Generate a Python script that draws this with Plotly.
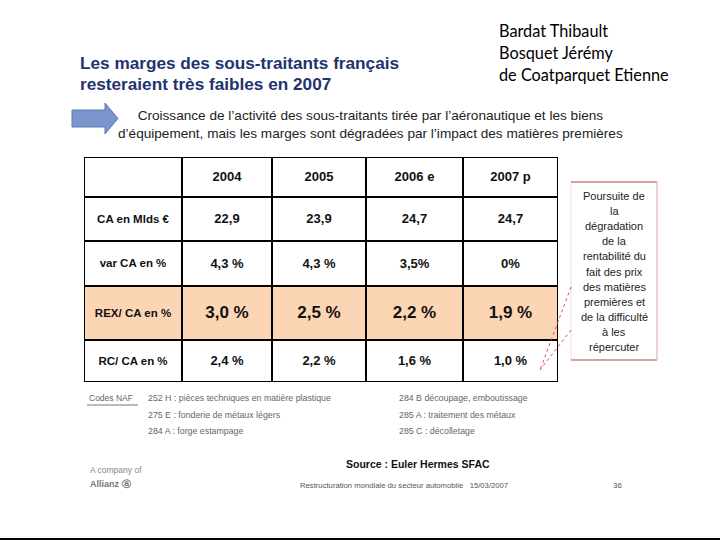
import plotly.graph_objects as go

# ---------------- data ----------------
years = ["2004", "2005", "2006 e", "2007 p"]
row_labels = ["CA en Mlds €", "var CA en %", "REX/ CA en %", "RC/ CA en %"]
ca_mlds = ["22,9", "23,9", "24,7", "24,7"]
var_ca = ["4,3 %", "4,3 %", "3,5%", "0%"]
rex_ca = ["3,0 %", "2,5 %", "2,2 %", "1,9 %"]
rc_ca = ["2,4 %", "2,2 %", "1,6 %", "1,0 %"]
highlight_row = "REX/ CA en %"

title_lines = ["Les marges des sous-traitants français", "resteraient très faibles en 2007"]
subtitle_lines = ["Croissance de l’activité des sous-traitants tirée par l’aéronautique et les biens",
                  "d’équipement, mais les marges sont dégradées par l’impact des matières premières"]
authors = ["Bardat Thibault", "Bosquet Jérémy", "de Coatparquet Etienne"]
callout_lines = ["Poursuite de", "la", "dégradation", "de la", "rentabilité du", "fait des prix",
                 "des matières", "premières et", "de la difficulté", "à les", "répercuter"]
naf_left = ["252 H : pièces techniques en matière plastique", "275 E : fonderie de métaux légers",
            "284 A : forge estampage"]
naf_right = ["284 B découpage, emboutissage", "285 A : traitement des métaux", "285 C : décolletage"]

# ---------------- layout geometry (pixels) ----------------
W, H = 720, 540
COL_EDGES = [84, 182, 272, 366, 463, 558]
ROW_EDGES = [157, 197, 241, 286, 340, 382]
ARIAL = "Liberation Sans, Arial, sans-serif"


def px(x):
    return x / W


def py(y):
    return 1 - y / H


rows_values = [ca_mlds, var_ca, rex_ca, rc_ca]
col_c = [(COL_EDGES[i] + COL_EDGES[i + 1]) / 2 for i in range(len(COL_EDGES) - 1)]
row_c = [(ROW_EDGES[i] + ROW_EDGES[i + 1]) / 2 + 1 for i in range(len(ROW_EDGES) - 1)]

fig = go.Figure()

# cell fills (highlighted row)
z = [[0] * 5] + [[1 if lab == highlight_row else 0] * 5 for lab in row_labels]
fig.add_trace(go.Heatmap(x=COL_EDGES, y=ROW_EDGES, z=z, zmin=0, zmax=1,
                         colorscale=[[0, "#FFFFFF"], [1, "#FCD5B4"]],
                         showscale=False, hoverinfo="skip"))

# header text
fig.add_trace(go.Scatter(x=col_c[1:], y=[row_c[0]] * len(years), mode="text", text=years,
                         textfont=dict(family=ARIAL, size=13, color="#111111", weight="bold"),
                         hoverinfo="skip", showlegend=False))
# row labels
fig.add_trace(go.Scatter(x=[col_c[0]] * len(row_labels), y=row_c[1:], mode="text", text=row_labels,
                         textfont=dict(family=ARIAL, size=11.5, color="#111111", weight="bold"),
                         hoverinfo="skip", showlegend=False))
# values
for r, vals in enumerate(rows_values):
    big = row_labels[r] == highlight_row
    fig.add_trace(go.Scatter(x=col_c[1:], y=[row_c[r + 1]] * len(vals), mode="text", text=vals,
                             textfont=dict(family=ARIAL, size=17 if big else 13,
                                           color="#111111", weight="bold"),
                             hoverinfo="skip", showlegend=False))

shapes = []
# grid lines
for xe in COL_EDGES:
    shapes.append(dict(type="line", xref="x", yref="y", x0=xe, x1=xe, y0=ROW_EDGES[0], y1=ROW_EDGES[-1],
                       line=dict(color="#000000", width=2)))
for ye in ROW_EDGES:
    shapes.append(dict(type="line", xref="x", yref="y", x0=COL_EDGES[0], x1=COL_EDGES[-1], y0=ye, y1=ye,
                       line=dict(color="#000000", width=2)))

# blue block arrow
ax0, ax1, ah, ay0, ay1, sy0, sy1 = 72, 118, 105, 103, 134, 110, 127
ym = (ay0 + ay1) / 2
path = (f"M {px(ax0)},{py(sy0)} L {px(ah)},{py(sy0)} L {px(ah)},{py(ay0)} L {px(ax1)},{py(ym)} "
        f"L {px(ah)},{py(ay1)} L {px(ah)},{py(sy1)} L {px(ax0)},{py(sy1)} Z")
shapes.append(dict(type="path", xref="paper", yref="paper", path=path,
                   fillcolor="#7B96CF", line=dict(color="#5F78B0", width=1)))

# callout box
shapes.append(dict(type="rect", xref="paper", yref="paper", x0=px(571), x1=px(657), y0=py(182), y1=py(360),
                   fillcolor="rgba(0,0,0,0)", line=dict(color="#F2DADA", width=1)))
for yy in (182, 360):
    shapes.append(dict(type="line", xref="paper", yref="paper", x0=px(571), x1=px(657), y0=py(yy), y1=py(yy),
                       line=dict(color="#D9A0A0", width=2)))
shapes.append(dict(type="line", xref="paper", yref="paper", x0=px(657), x1=px(657), y0=py(182), y1=py(360),
                   line=dict(color="#E3B5B5", width=1)))
# callout pointer
for y_start in (287, 330):
    shapes.append(dict(type="line", xref="paper", yref="paper", x0=px(571), y0=py(y_start),
                       x1=px(540), y1=py(370), line=dict(color="#E05050", width=1, dash="dot")))

# underline for Codes NAF
shapes.append(dict(type="line", xref="paper", yref="paper", x0=px(87), x1=px(138), y0=py(405), y1=py(405),
                   line=dict(color="#777777", width=1)))
# bottom slide line
shapes.append(dict(type="line", xref="paper", yref="paper", x0=0, x1=1, y0=py(539), y1=py(539),
                   line=dict(color="#000000", width=2)))

annotations = []


def note(text, x, y, size, color="#000000", xanchor="left", family=ARIAL, bold=False, align="left"):
    annotations.append(dict(text=f"<b>{text}</b>" if bold else text, x=px(x), y=py(y),
                            xref="paper", yref="paper", xanchor=xanchor, yanchor="middle",
                            showarrow=False, align=align,
                            font=dict(family=family, size=size, color=color)))


# title
for i, t in enumerate(title_lines):
    note(t, 78, 63 + i * 21, 17.2, color="#1F3370", bold=True)
# subtitle
note("<br>".join(subtitle_lines), 371, 124, 13.6, color="#222222", xanchor="center", align="center")
# authors
for i, a in enumerate(authors):
    note(a, 497, 31 + i * 22, 16.3, color="#000000", family="Lato, Carlito, Calibri, sans-serif")
# callout text
for i, t in enumerate(callout_lines):
    note(t, 614, 196 + i * 15.1, 11, color="#222222", xanchor="center")
# NAF codes
note("Codes NAF", 87, 398, 8.5, color="#666666")
for i, t in enumerate(naf_left):
    note(t, 146, 398 + i * 16.5, 8.8, color="#666666")
for i, t in enumerate(naf_right):
    note(t, 397, 398 + i * 16.5, 8.8, color="#666666")
# footer
note("Source : Euler Hermes SFAC", 344, 464, 10.5, color="#111111", bold=True)
note("A company of", 88, 470, 8.5, color="#888888")
note("Allianz ⓐ", 88, 484, 9, color="#777777", bold=True)
note("Restructuration mondiale du secteur automobile   15/03/2007", 298, 485, 7.7, color="#555555")
note("36", 611, 485, 8, color="#555555")

fig.update_layout(
    width=W, height=H, autosize=False,
    margin=dict(l=0, r=0, t=0, b=0),
    paper_bgcolor="#FFFFFF", plot_bgcolor="#FFFFFF",
    showlegend=False,
    shapes=shapes, annotations=annotations,
    xaxis=dict(domain=[px(COL_EDGES[0]), px(COL_EDGES[-1])], range=[COL_EDGES[0], COL_EDGES[-1]],
               visible=False, fixedrange=True),
    yaxis=dict(domain=[py(ROW_EDGES[-1]), py(ROW_EDGES[0])], range=[ROW_EDGES[-1], ROW_EDGES[0]],
               visible=False, fixedrange=True),
)

fig.write_html("out.html", config={"displayModeBar": False},
               post_script="document.body.style.margin='0';document.body.style.padding='0';")
